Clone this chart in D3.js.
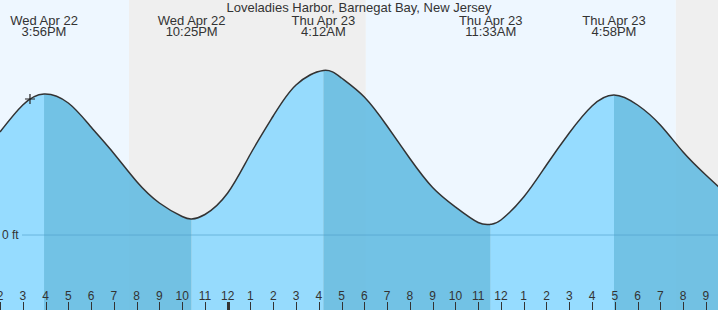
<!DOCTYPE html>
<html>
<head>
<meta charset="utf-8">
<script src="https://cdn.jsdelivr.net/npm/d3@7"></script>
<style>
body { margin: 0; overflow: hidden; background: #fff; }
svg { display: block; font-family: 'Liberation Sans', Arial, sans-serif; }
.title-text { fill: #333; font-size: 13px; text-anchor: middle; }
.extreme-text { fill: #333; font-size: 13px; text-anchor: middle; }
.tick-text { fill: #333; font-size: 12px; text-anchor: middle; }
.zero-text { fill: #333; font-size: 12px; }
</style>
</head>
<body>
<div id="chart"></div>
<script>
var title = 'Loveladies Harbor, Barnegat Bay, New Jersey';

// tide heights (ft)
var tideTimes = [
    '2026-04-22 14:00', '2026-04-22 15:00', '2026-04-22 17:00', '2026-04-22 18:00',
    '2026-04-22 19:00', '2026-04-22 20:00', '2026-04-22 21:00', '2026-04-22 22:00',
    '2026-04-22 23:00', '2026-04-23 00:00', '2026-04-23 01:00', '2026-04-23 02:00',
    '2026-04-23 03:00', '2026-04-23 05:00', '2026-04-23 06:00',
    '2026-04-23 07:00', '2026-04-23 08:00', '2026-04-23 09:00', '2026-04-23 10:00',
    '2026-04-23 11:00', '2026-04-23 12:00', '2026-04-23 13:00', '2026-04-23 14:00',
    '2026-04-23 15:00', '2026-04-23 16:00', '2026-04-23 18:00', '2026-04-23 19:00',
    '2026-04-23 20:00', '2026-04-23 21:00', '2026-04-23 22:00'
];
var tideHeights = [
    1.03, 1.30, 1.32, 1.08,
    0.815, 0.535, 0.32, 0.185,
    0.205, 0.42, 0.81, 1.19,
    1.50, 1.57, 1.38,
    1.09, 0.765, 0.475, 0.28,
    0.125, 0.15, 0.38, 0.70,
    1.02, 1.29, 1.30, 1.10,
    0.83, 0.60, 0.39
];

var extremeTimes = ['2026-04-22 15:56', '2026-04-22 22:25', '2026-04-23 04:12', '2026-04-23 11:33', '2026-04-23 16:58'];
var extremeHeights = [1.41, 0.16, 1.645, 0.107, 1.40];
var extremeTypes = ['high', 'low', 'high', 'low', 'high'];

var sunTimes = ['2026-04-22 19:40', '2026-04-23 06:04', '2026-04-23 19:41'];
var sunTypes = ['set', 'rise', 'set'];

var nowTime = '2026-04-22 15:19';
var nowHeight = 1.36;

var timeDomain = ['2026-04-22 14:00', '2026-04-23 21:32'];
var heightDomain = [-0.75, 2.35];

var width = 718, height = 310;
var parseTime = d3.timeParse('%Y-%m-%d %H:%M');

var x = d3.scaleTime()
    .domain(timeDomain.map(parseTime))
    .range([0, width]);

var y = d3.scaleLinear()
    .domain(heightDomain)
    .range([height, 0]);

var tideData = tideTimes.map(function(t, i) { return { time: parseTime(t), height: tideHeights[i] }; })
    .concat(extremeTimes.map(function(t, i) { return { time: parseTime(t), height: extremeHeights[i] }; }))
    .sort(function(a, b) { return a.time - b.time; });

var svg = d3.select('#chart')
    .append('svg')
    .attr('width', width)
    .attr('height', height);

var defs = svg.append('defs');

// day / night bands
var bandEdges = [x.domain()[0]].concat(sunTimes.map(parseTime), [x.domain()[1]]);
var bands = [];
for (var i = 0; i < bandEdges.length - 1; i++) {
    bands.push({ start: bandEdges[i], end: bandEdges[i + 1], night: i > 0 && sunTypes[i - 1] === 'set' });
}

svg.selectAll('.band')
    .data(bands)
    .enter().append('rect')
    .attr('class', 'band')
    .attr('x', function(d) { return x(d.start); })
    .attr('y', 0)
    .attr('width', function(d) { return x(d.end) - x(d.start); })
    .attr('height', height)
    .style('fill', function(d) { return d.night ? '#efefef' : '#eef7ff'; });

// rising / falling segments of the tide
var segEdges = [x.domain()[0]].concat(extremeTimes.map(parseTime), [x.domain()[1]]);
var segments = [];
for (var j = 0; j < segEdges.length - 1; j++) {
    var nextType = j < extremeTypes.length ? extremeTypes[j] : (extremeTypes[j - 1] === 'high' ? 'low' : 'high');
    segments.push({ start: segEdges[j], end: segEdges[j + 1], rising: nextType === 'high' });
}

defs.selectAll('clipPath')
    .data(segments)
    .enter().append('clipPath')
    .attr('id', function(d, i) { return 'seg-clip-' + i; })
    .append('rect')
    .attr('x', function(d) { return x(d.start); })
    .attr('y', 0)
    .attr('width', function(d) { return x(d.end) - x(d.start); })
    .attr('height', height);

var area = d3.area()
    .curve(d3.curveNatural)
    .x(function(d) { return x(d.time); })
    .y0(height)
    .y1(function(d) { return y(d.height); });

svg.selectAll('.tide-area')
    .data(segments)
    .enter().append('path')
    .attr('class', 'tide-area')
    .attr('clip-path', function(d, i) { return 'url(#seg-clip-' + i + ')'; })
    .attr('d', area(tideData))
    .style('fill', function(d) { return d.rising ? '#86d7ff' : '#5cb8e0'; })
    .style('fill-opacity', 0.85);

// zero line
svg.append('line')
    .attr('x1', 22)
    .attr('x2', width)
    .attr('y1', y(0))
    .attr('y2', y(0))
    .style('stroke', '#4f9fc8')
    .style('stroke-opacity', 0.6)
    .style('stroke-width', 1);

svg.append('text')
    .attr('class', 'zero-text')
    .attr('x', 2)
    .attr('y', y(0))
    .attr('dy', '0.35em')
    .text('0 ft');

// tide curve
var line = d3.line()
    .curve(d3.curveNatural)
    .x(function(d) { return x(d.time); })
    .y(function(d) { return y(d.height); });

svg.append('path')
    .attr('d', line(tideData))
    .style('fill', 'none')
    .style('stroke', '#333')
    .style('stroke-width', 1.5);

// current time marker
var nx = x(parseTime(nowTime)), ny = y(nowHeight);
svg.append('path')
    .attr('d', 'M' + (nx - 5) + ',' + ny + 'H' + (nx + 5) + 'M' + nx + ',' + (ny - 5) + 'V' + (ny + 5))
    .style('stroke', '#222')
    .style('stroke-width', 1.2);

// hour ticks
var hours = d3.timeHour.range(x.domain()[0], x.domain()[1]);
var hourFormat = d3.timeFormat('%-I');

svg.selectAll('.hour-tick')
    .data(hours)
    .enter().append('line')
    .attr('class', 'hour-tick')
    .attr('x1', function(d) { return Math.round(x(d)) + 0.5; })
    .attr('x2', function(d) { return Math.round(x(d)) + 0.5; })
    .attr('y1', 302)
    .attr('y2', height)
    .style('stroke', '#333')
    .style('stroke-width', function(d) { return d.getHours() === 0 ? 3 : 1; });

svg.selectAll('.tick-text')
    .data(hours)
    .enter().append('text')
    .attr('class', 'tick-text')
    .attr('x', function(d) { return x(d); })
    .attr('y', 300)
    .text(function(d) { return hourFormat(d); });

// extreme labels
var dayFormat = d3.timeFormat('%a %b %-d');
var clockFormat = d3.timeFormat('%-I:%M%p');

var labels = svg.selectAll('.extreme-label')
    .data(extremeTimes.map(parseTime))
    .enter().append('g')
    .attr('class', 'extreme-label')
    .attr('transform', function(d) { return 'translate(' + x(d) + ',0)'; });

labels.append('text')
    .attr('class', 'extreme-text')
    .attr('y', 25)
    .text(function(d) { return dayFormat(d); });

labels.append('text')
    .attr('class', 'extreme-text')
    .attr('y', 36)
    .text(function(d) { return clockFormat(d); });

svg.append('text')
    .attr('class', 'title-text')
    .attr('x', width / 2)
    .attr('y', 12)
    .text(title);
</script>
</body>
</html>
